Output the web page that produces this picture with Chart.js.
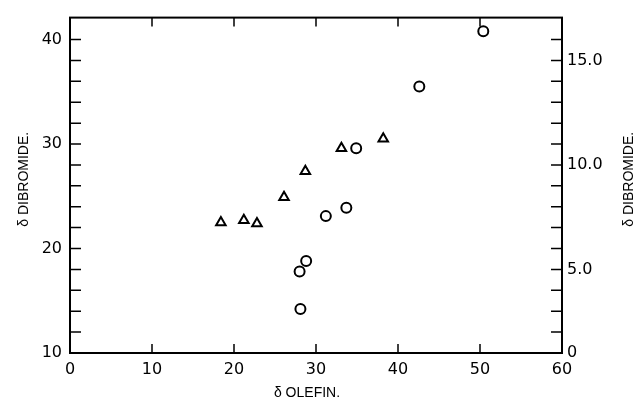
<!DOCTYPE html>
<html>
<head>
<meta charset="utf-8">
<script src="https://cdn.jsdelivr.net/npm/chart.js@4"></script>
<style>
  html, body { margin: 0; padding: 0; background: #fff; }
  canvas { display: block; }
</style>
</head>
<body>
<canvas id="olefinChart" width="641" height="407"></canvas>
<script>
// values
const circleX = [50.4, 42.6, 34.9, 31.2, 33.7, 28.8, 28.0, 28.1];
const circleY = [40.8, 35.5, 29.6, 23.1, 23.9, 18.8, 17.8, 14.2];
const triangleX = [18.4, 21.2, 22.8, 26.1, 28.7, 33.1, 38.2];
const triangleY = [22.5, 22.7, 22.4, 24.9, 27.4, 29.6, 30.5];

// tick marks on both vertical axes (left axis units)
const yTickValues = [10, 12, 14, 16, 18, 20, 22, 24, 26, 28, 30, 32, 34, 36, 38, 40];
const yLabelValues = [10, 20, 30, 40];
// right-hand scale labels, placed at left-axis positions as in the original
const rightTickValues = [10, 18, 28, 38];
const rightTickLabels = ['0', '5.0', '10.0', '15.0'];

const xTitle = 'δ OLEFIN.';
const yTitle = 'δ DIBROMIDE.';

const tickFont = { family: 'DejaVu Sans, sans-serif', size: 16 };
const titleFont = '14px "Liberation Sans", Arial, sans-serif';

function toPoints(xs, ys) {
    return xs.map((x, i) => ({ x: x, y: ys[i] }));
}

const framePlugin = {
    id: 'frame',
    afterDraw(chart) {
        const ctx = chart.ctx;
        const area = chart.chartArea;
        const { x, x2, y, y2 } = chart.scales;
        ctx.save();
        ctx.strokeStyle = '#000';
        ctx.lineWidth = 2;
        ctx.strokeRect(area.left, area.top, area.right - area.left, area.bottom - area.top);
        ctx.lineWidth = 1.5;
        ctx.beginPath();
        y.ticks.forEach(t => {
            const py = y.getPixelForValue(t.value);
            ctx.moveTo(area.left, py);
            ctx.lineTo(area.left + 11, py);
        });
        y2.ticks.forEach(t => {
            const py = y2.getPixelForValue(t.value);
            ctx.moveTo(area.right, py);
            ctx.lineTo(area.right - 11, py);
        });
        x.ticks.forEach(t => {
            const px = x.getPixelForValue(t.value);
            ctx.moveTo(px, area.bottom);
            ctx.lineTo(px, area.bottom - 9);
        });
        x2.ticks.forEach(t => {
            const px = x2.getPixelForValue(t.value);
            ctx.moveTo(px, area.top);
            ctx.lineTo(px, area.top + 9);
        });
        ctx.stroke();

        // axis titles
        ctx.fillStyle = '#000';
        ctx.font = titleFont;
        ctx.textAlign = 'center';
        ctx.textBaseline = 'middle';
        ctx.fillText(xTitle, 307, 393);
        const midY = (area.top + area.bottom) / 2 - 6;
        [24, 629].forEach(tx => {
            ctx.save();
            ctx.translate(tx, midY);
            ctx.rotate(-Math.PI / 2);
            ctx.fillText(yTitle, 0, 0);
            ctx.restore();
        });
        ctx.restore();
    }
};

const canvas = document.getElementById('olefinChart');
const chart = new Chart(canvas, {
    type: 'scatter',
    data: {
        datasets: [{
            label: 'circles',
            data: toPoints(circleX, circleY),
            pointStyle: 'circle',
            pointRadius: 5,
            borderColor: '#000',
            backgroundColor: 'rgba(255,255,255,0)',
            borderWidth: 2
        }, {
            label: 'triangles',
            data: toPoints(triangleX, triangleY),
            pointStyle: 'triangle',
            pointRadius: 5.5,
            borderColor: '#000',
            backgroundColor: 'rgba(255,255,255,0)',
            borderWidth: 2
        }]
    },
    options: {
        responsive: false,
        animation: false,
        layout: { padding: 0 },
        plugins: {
            legend: { display: false },
            tooltip: { enabled: false }
        },
        scales: {
            x: {
                type: 'linear',
                position: 'bottom',
                min: 0,
                max: 60,
                grid: { display: false, drawTicks: false },
                border: { display: false },
                ticks: { stepSize: 10, color: '#000', font: tickFont, padding: 7, maxRotation: 0 },
                afterFit(s) { s.height = 54; }
            },
            x2: {
                type: 'linear',
                position: 'top',
                min: 0,
                max: 60,
                grid: { display: false, drawTicks: false },
                border: { display: false },
                ticks: { stepSize: 10, display: false },
                afterFit(s) { s.height = 15; }
            },
            y: {
                type: 'linear',
                position: 'left',
                min: 10,
                max: 42.1,
                grid: { display: false, drawTicks: false },
                border: { display: false },
                afterBuildTicks(s) { s.ticks = yTickValues.map(v => ({ value: v })); },
                ticks: {
                    color: '#000',
                    font: tickFont,
                    padding: 8,
                    callback: v => yLabelValues.includes(v) ? String(v) : ''
                },
                afterFit(s) { s.width = 70; }
            },
            y2: {
                type: 'linear',
                position: 'right',
                min: 10,
                max: 42.1,
                grid: { display: false, drawTicks: false },
                border: { display: false },
                afterBuildTicks(s) { s.ticks = yTickValues.map(v => ({ value: v })); },
                ticks: {
                    color: '#000',
                    font: tickFont,
                    padding: 5,
                    callback: v => {
                        const i = rightTickValues.indexOf(v);
                        return i >= 0 ? rightTickLabels[i] : '';
                    }
                },
                afterFit(s) { s.width = 79; }
            }
        }
    },
    plugins: [framePlugin]
});
</script>
</body>
</html>
